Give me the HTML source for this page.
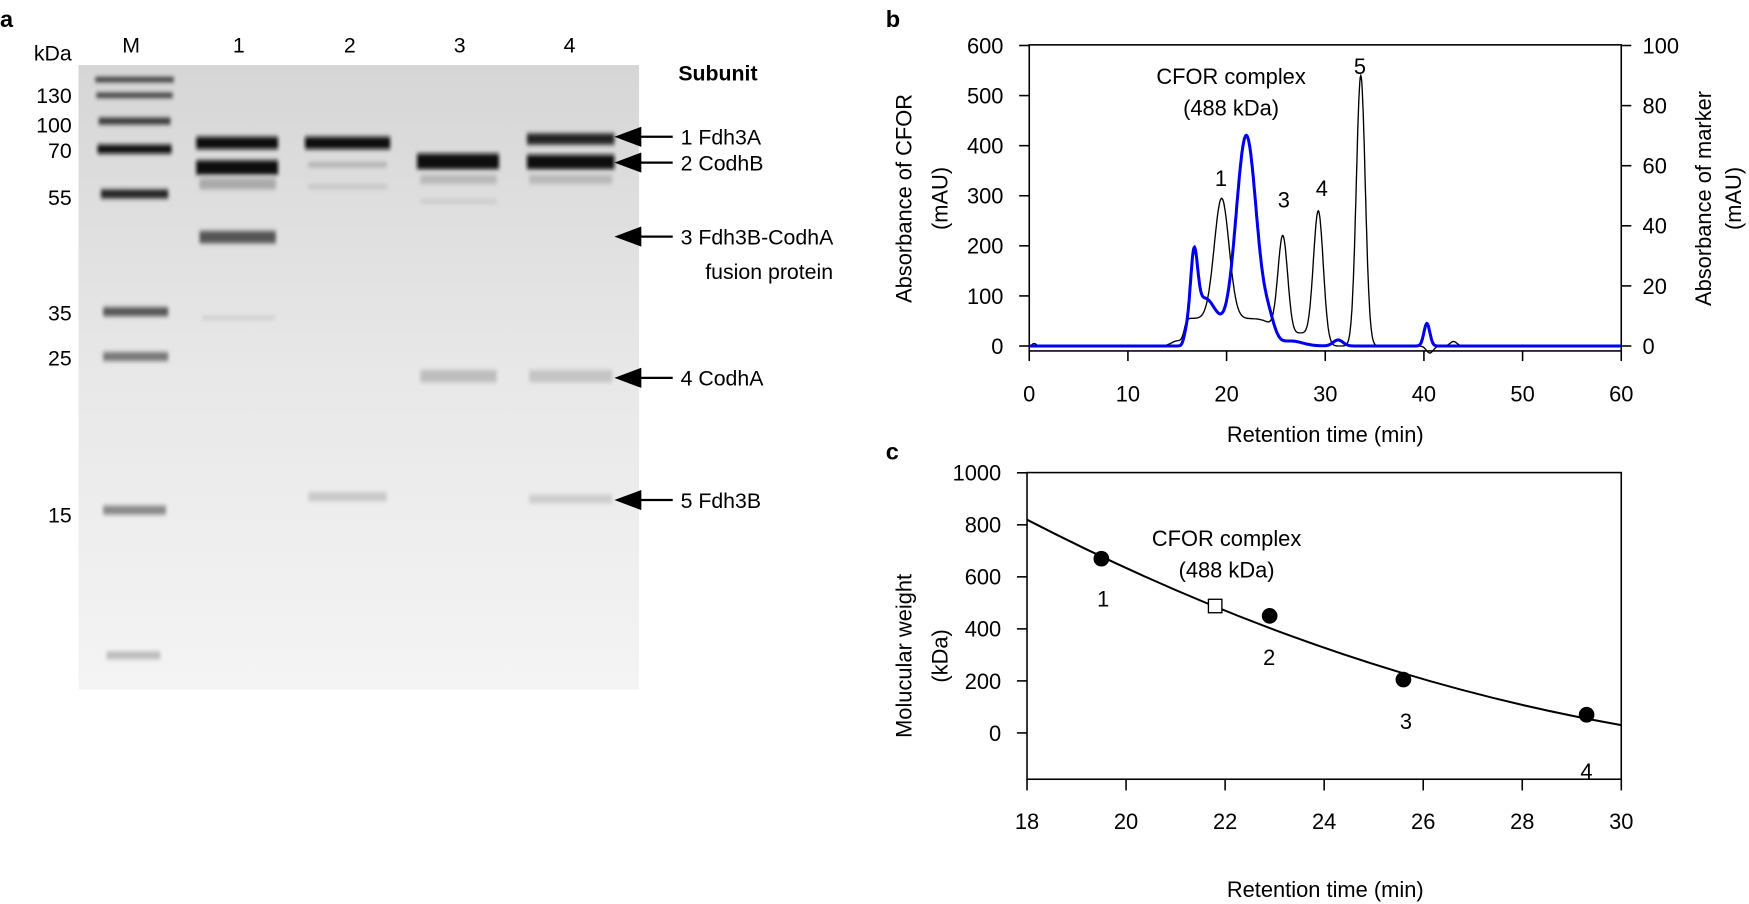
<!DOCTYPE html>
<html><head><meta charset="utf-8"><style>
body{margin:0;background:#fff;}
svg{display:block;font-family:"Liberation Sans",Arial,sans-serif;}
</style></head><body>
<svg id="s" width="1749" height="904" viewBox="0 0 1749 904" xmlns="http://www.w3.org/2000/svg">
<defs>
<linearGradient id="gg" x1="0" y1="0" x2="0" y2="1"><stop offset="0" stop-color="#d6d6d6"/><stop offset="0.5" stop-color="#e8e8e8"/><stop offset="1" stop-color="#f4f4f4"/></linearGradient>
<filter id="bl" x="-20%" y="-100%" width="140%" height="300%"><feGaussianBlur stdDeviation="1.6 2.2"/></filter>
</defs>
<g transform="scale(1.1212)">
<text x="0" y="24" font-size="21" font-weight="bold">a</text>
<text x="790" y="24" font-size="21" font-weight="bold">b</text>
<text x="790" y="410" font-size="21" font-weight="bold">c</text>
<!-- gel -->
<rect x="70" y="58" width="500" height="557" fill="url(#gg)"/>
<g filter="url(#bl)">
<rect x="85" y="69" width="70" height="4" fill="#222"/>
<rect x="86" y="83" width="68" height="4" fill="#222"/>
<rect x="88" y="105" width="64" height="6" fill="#333"/>
<rect x="87" y="129" width="66" height="8" fill="#111"/>
<rect x="90" y="169" width="60" height="8" fill="#222"/>
<rect x="92" y="274" width="58" height="8" fill="#555"/>
<rect x="92" y="314" width="58" height="8" fill="#777"/>
<rect x="92" y="451" width="56" height="8" fill="#888"/>
<rect x="95" y="581" width="48" height="7" fill="#bbb"/>
<rect x="175" y="122" width="73" height="11" fill="#111"/>
<rect x="175" y="143" width="73" height="13" fill="#111"/>
<rect x="178" y="159" width="68" height="10" fill="#aaa"/>
<rect x="178" y="206" width="68" height="11" fill="#555"/>
<rect x="180" y="282" width="65" height="3" fill="#c8c8c8"/>
<rect x="272" y="122" width="76" height="11" fill="#111"/>
<rect x="275" y="145" width="70" height="4" fill="#aaa"/>
<rect x="275" y="165" width="70" height="3" fill="#bbb"/>
<rect x="275" y="439" width="70" height="8" fill="#c8c8c8"/>
<rect x="372" y="137" width="73" height="14" fill="#111"/>
<rect x="375" y="156" width="68" height="8" fill="#b8b8b8"/>
<rect x="375" y="330" width="68" height="11" fill="#bdbdbd"/>
<rect x="375" y="178" width="68" height="3" fill="#c4c4c4"/>
<rect x="470" y="119" width="78" height="10" fill="#222"/>
<rect x="470" y="138" width="78" height="13" fill="#111"/>
<rect x="472" y="156" width="74" height="8" fill="#b8b8b8"/>
<rect x="472" y="330" width="74" height="11" fill="#c4c4c4"/>
<rect x="472" y="441" width="74" height="8" fill="#cdcdcd"/>
</g>
<g font-size="19" text-anchor="middle">
<text x="117" y="47">M</text><text x="213" y="47">1</text><text x="312" y="47">2</text><text x="410" y="47">3</text><text x="508" y="47">4</text>
</g>
<g font-size="19" text-anchor="end">
<text x="64" y="54">kDa</text><text x="64" y="92">130</text><text x="64" y="118">100</text><text x="64" y="141">70</text><text x="64" y="183">55</text><text x="64" y="286">35</text><text x="64" y="326">25</text><text x="64" y="466">15</text>
</g>
<text x="605" y="72" font-size="19" font-weight="bold">Subunit</text>
<g stroke="#000" stroke-width="2">
<line x1="560" y1="122" x2="600" y2="122"/><line x1="560" y1="145" x2="600" y2="145"/><line x1="560" y1="211" x2="600" y2="211"/><line x1="560" y1="337" x2="600" y2="337"/><line x1="560" y1="446" x2="600" y2="446"/>
</g>
<g fill="#000">
<polygon points="548,122 572,113 572,131"/><polygon points="548,145 572,136 572,154"/><polygon points="548,211 572,202 572,220"/><polygon points="548,337 572,328 572,346"/><polygon points="548,446 572,437 572,455"/>
</g>
<g font-size="19">
<text x="607" y="129">1 Fdh3A</text><text x="607" y="152">2 CodhB</text><text x="607" y="218">3 Fdh3B-CodhA</text><text x="629" y="249">fusion protein</text><text x="607" y="344">4 CodhA</text><text x="607" y="453">5 Fdh3B</text>
</g>
<!-- panel b -->
<rect x="918" y="40" width="528" height="273" fill="none" stroke="#000" stroke-width="1.4"/>
<g id="bt" font-size="19.5"></g>
<path id="blk" fill="none" stroke="#000" stroke-width="1.2"/>
<path id="blu" fill="none" stroke="#0000ee" stroke-width="2.7"/>
<g font-size="19.5" text-anchor="middle">
<text x="1098" y="75">CFOR complex</text><text x="1098" y="103">(488 kDa)</text>
<text x="1089" y="166">1</text><text x="1145" y="185">3</text><text x="1179" y="175">4</text><text x="1213" y="66">5</text>
<text x="1182" y="394">Retention time (min)</text>
<text transform="translate(813,177) rotate(-90)">Absorbance of CFOR</text>
<text transform="translate(845,177) rotate(-90)">(mAU)</text>
<text transform="translate(1526,177) rotate(-90)">Absorbance of marker</text>
<text transform="translate(1553,177) rotate(-90)">(mAU)</text>
</g>
<!-- panel c -->
<rect x="916" y="421.5" width="530" height="273.5" fill="none" stroke="#000" stroke-width="1.4"/>
<g id="ct" font-size="19.5"></g>
<path d="M916,463.5 Q1181,600.3 1446,646.7" fill="none" stroke="#000" stroke-width="1.8"/>
<circle cx="982.3" cy="498.3" r="7"/><circle cx="1132.4" cy="549.3" r="7"/><circle cx="1251.7" cy="606.1" r="7"/><circle cx="1415.1" cy="637.5" r="7"/>
<rect x="1077.8" y="534.5" width="12" height="12" fill="#fff" stroke="#000" stroke-width="1.2"/>
<g font-size="19.5" text-anchor="middle">
<text x="1094" y="487">CFOR complex</text><text x="1094" y="515">(488 kDa)</text>
<text x="984" y="541">1</text><text x="1132" y="593">2</text><text x="1254" y="650">3</text><text x="1415" y="695">4</text>
<text x="1182" y="800">Retention time (min)</text>
<text transform="translate(813,585) rotate(-90)">Molucular weight</text>
<text transform="translate(845,585) rotate(-90)">(kDa)</text>
</g>
</g>
</svg>
<script>
var NS="http://www.w3.org/2000/svg";
function el(p,tag,a,txt){var e=document.createElementNS(NS,tag);for(var k in a)e.setAttribute(k,a[k]);if(txt!==undefined)e.textContent=txt;p.appendChild(e);return e;}
var bt=document.getElementById("bt");
function X(t){return 918+t*8.8;}function Y(v){return 308.6-v*0.4467;}
for(var i=0;i<=6;i++){var y=Y(i*100);el(bt,"line",{x1:909,x2:918,y1:y,y2:y,stroke:"#000","stroke-width":1.4});el(bt,"text",{x:895,y:y+7,"text-anchor":"end"},String(i*100));}
for(var i=0;i<=5;i++){var y=308.6-i*53.6;el(bt,"line",{x1:1446,x2:1455,y1:y,y2:y,stroke:"#000","stroke-width":1.4});el(bt,"text",{x:1465,y:y+7},String(i*20));}
for(var i=0;i<=6;i++){var x=X(i*10);el(bt,"line",{x1:x,x2:x,y1:313,y2:322,stroke:"#000","stroke-width":1.4});el(bt,"text",{x:x,y:358,"text-anchor":"middle"},String(i*10));}
function g(t,m,s,h){return h*Math.exp(-(t-m)*(t-m)/(2*s*s));}
function sig(t,a,w){return 1/(1+Math.exp(-(t-a)/w));}
function blk(t){return 55*sig(t,15.7,0.15)*(1-sig(t,25,0.5))+g(t,19.5,0.75,240)+g(t,25.7,0.5,205)+g(t,29.3,0.5,265)+g(t,33.6,0.45,540)+g(t,27.5,1,25)-g(t,40.6,0.35,14)+g(t,43,0.35,9)+g(t,0.5,0.2,5)+g(t,15,0.6,10);}
function blu(t){return g(t,16.7,0.35,130)+g(t,17.8,1.3,95)*sig(t,15.6,0.12)+g(t,22,1.05,420)+g(t,24.3,0.6,40)+g(t,26.5,1.2,10)+g(t,31.3,0.5,12)+g(t,40.3,0.3,45);}
var d="",d2="";
for(var t=0;t<=50;t+=0.05){d+=(t?"L":"M")+X(t).toFixed(1)+","+Y(blk(t)).toFixed(1);}
for(var t=0;t<=60;t+=0.05){d2+=(t?"L":"M")+X(t).toFixed(1)+","+Y(blu(t)).toFixed(1);}
document.getElementById("blk").setAttribute("d",d);document.getElementById("blu").setAttribute("d",d2);
var ct=document.getElementById("ct");
for(var v=0;v<=1000;v+=200){var y=653.7-v*0.232;el(ct,"line",{x1:907,x2:916,y1:y,y2:y,stroke:"#000","stroke-width":1.4});el(ct,"text",{x:893,y:y+7,"text-anchor":"end"},String(v));}
for(var t=18;t<=30;t+=2){var x=916+(t-18)*44.17;el(ct,"line",{x1:x,x2:x,y1:695,y2:705,stroke:"#000","stroke-width":1.4});el(ct,"text",{x:x,y:739.5,"text-anchor":"middle"},String(t));}
</script>
</body></html>
